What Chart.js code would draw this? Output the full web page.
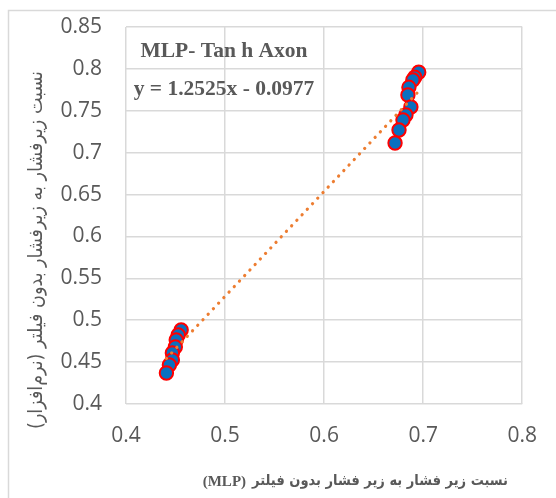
<!DOCTYPE html>
<html>
<head>
<meta charset="utf-8">
<script src="https://cdn.jsdelivr.net/npm/chart.js@4.4.1/dist/chart.umd.min.js"></script>
<style>
  html, body { margin: 0; padding: 0; background: #fff; }
  #wrap { width: 556px; height: 498px; }
</style>
</head>
<body>
<div id="wrap"><canvas id="chart" width="556" height="498"></canvas></div>
<script>
// data
var xValues = [0.6955, 0.6915, 0.6896, 0.6856, 0.6846, 0.6876, 0.6826, 0.6796, 0.6756, 0.6716,
               0.4557, 0.4527, 0.4507, 0.4498, 0.4468, 0.4468, 0.4438, 0.4408];
var yValues = [0.796, 0.790, 0.7867, 0.778, 0.7688, 0.7545, 0.745, 0.739, 0.727, 0.7115,
               0.4884, 0.4824, 0.4764, 0.468, 0.4609, 0.4525, 0.4466, 0.437];
var trendX = [0.4408, 0.6955];
var trendY = [0.4544, 0.7734];
var xTicks = [0.4, 0.5, 0.6, 0.7, 0.8];
var yTicks = [0.4, 0.45, 0.5, 0.55, 0.6, 0.65, 0.7, 0.75, 0.8, 0.85];

var boxTitle = 'MLP- Tan h Axon';
var boxEquation = 'y = 1.2525x - 0.0977';
var xTitleFa = 'نسبت زیر فشار به زیر فشار بدون فیلتر';
var xTitleEn = '(MLP)';
var yTitle = 'نسبت زیرفشار به زیرفشار بدون فیلتر (نرم\u200Cافزار)';

var textGray = '#595959';
var gridGray = '#d9d9d9';

function toPoints(xs, ys) {
  return xs.map(function(x, i) { return { x: x, y: ys[i] }; });
}

// pick a font size so the text spans the wanted width
function fitFont(ctx, text, weight, family, width) {
  ctx.font = weight + ' 20px ' + family;
  var size = 20 * width / ctx.measureText(text).width;
  ctx.font = weight + ' ' + size.toFixed(2) + 'px ' + family;
}

var decorPlugin = {
  id: 'decor',
  beforeDraw: function(chart) {
    var ctx = chart.ctx;
    ctx.save();
    ctx.fillStyle = '#fff';
    ctx.fillRect(0, 0, chart.width, chart.height);
    ctx.strokeStyle = gridGray;
    ctx.lineWidth = 1.5;
    ctx.strokeRect(8.5, 10.5, chart.width + 20, chart.height + 20);
    ctx.restore();
  },
  afterDraw: function(chart) {
    var ctx = chart.ctx;
    ctx.save();
    ctx.fillStyle = textGray;
    ctx.textAlign = 'center';
    ctx.textBaseline = 'alphabetic';

    // text box inside the plot
    ctx.font = 'bold 21.5px "Liberation Serif", "Times New Roman", serif';
    ctx.fillText(boxTitle, 224, 57);
    ctx.fillText(boxEquation, 224, 95);

    // x axis title: persian part + (MLP) in serif
    var fa = '"DejaVu Sans Condensed", "DejaVu Sans", sans-serif';
    fitFont(ctx, xTitleFa, 'bold', fa, 256);
    var wFa = ctx.measureText(xTitleFa).width;
    ctx.textBaseline = 'middle';
    ctx.direction = 'rtl';
    ctx.textAlign = 'right';
    ctx.fillText(xTitleFa, 508, 481);
    ctx.direction = 'ltr';
    ctx.textAlign = 'right';
    ctx.font = 'bold 15px "Liberation Serif", serif';
    ctx.fillText(xTitleEn, 508 - wFa - 6, 482);

    // y axis title
    ctx.direction = 'rtl';
    ctx.textAlign = 'center';
    fitFont(ctx, yTitle, 'normal', fa, 358);
    ctx.translate(37, 250);
    ctx.rotate(-Math.PI / 2);
    ctx.fillText(yTitle, 0, 0);
    ctx.restore();
  }
};

var chart = new Chart(document.getElementById('chart'), {
  type: 'scatter',
  data: {
    datasets: [
      {
        type: 'line',
        label: 'trend',
        data: toPoints(trendX, trendY),
        borderColor: '#ed7d31',
        borderWidth: 3.2,
        borderDash: [0.1, 7.5],
        borderCapStyle: 'round',
        pointRadius: 0,
        fill: false,
        order: 0
      },
      {
        label: 'MLP',
        data: toPoints(xValues, yValues),
        backgroundColor: '#0a70bf',
        borderColor: '#ff0000',
        borderWidth: 2,
        pointRadius: 6.7,
        pointHoverRadius: 6.7,
        order: 1
      }
    ]
  },
  options: {
    responsive: false,
    animation: false,
    events: [],
    layout: { autoPadding: false, padding: { left: 0, top: 27, right: 28, bottom: 0 } },
    plugins: {
      legend: { display: false },
      tooltip: { enabled: false }
    },
    scales: {
      x: {
        type: 'linear',
        min: 0.4,
        max: 0.8,
        afterFit: function(scale) { scale.height = 94; },
        afterBuildTicks: function(scale) {
          scale.ticks = xTicks.map(function(v) { return { value: v }; });
        },
        grid: { color: gridGray, lineWidth: 1.5, drawTicks: false },
        border: { display: false },
        ticks: {
          padding: 19,
          color: textGray,
          font: { family: '"Open Sans", sans-serif', size: 21 },
          callback: function(v) { return String(v); }
        }
      },
      y: {
        type: 'linear',
        min: 0.4,
        max: 0.85,
        afterFit: function(scale) {
          scale.width = 126;
          // tick padding would otherwise push the plot top down
          scale.paddingTop = 0;
          scale.paddingBottom = 0;
        },
        afterBuildTicks: function(scale) {
          scale.ticks = yTicks.map(function(v) { return { value: v }; });
        },
        grid: { color: gridGray, lineWidth: 1.5, drawTicks: false },
        border: { display: false },
        ticks: {
          padding: 24,
          color: textGray,
          font: { family: '"Open Sans", sans-serif', size: 21 },
          callback: function(v) { return String(v); }
        }
      }
    }
  },
  plugins: [decorPlugin]
});
</script>
</body>
</html>
